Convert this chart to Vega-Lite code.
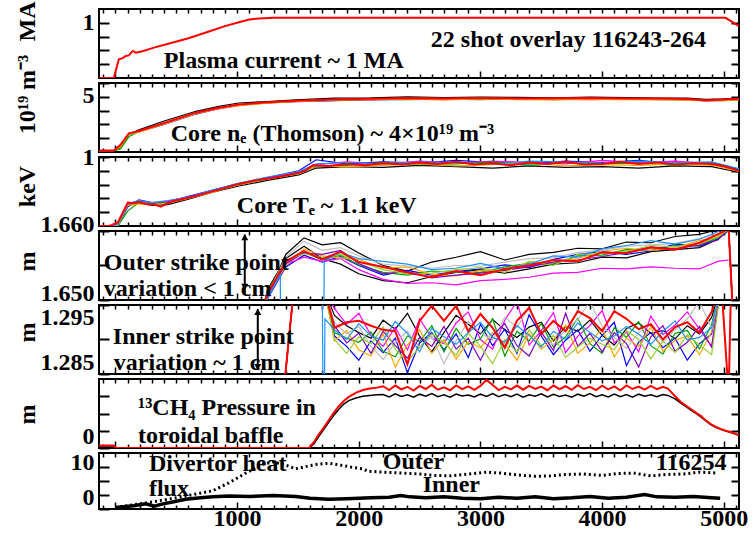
{
"$schema":"https://vega.github.io/schema/vega-lite/v6.json",
"background":"white",
"padding":{"left":14,"top":0,"right":12,"bottom":4},
"autosize":{"type":"pad"},
"spacing":5,
"bounds":"flush",
"config":{
 "view":{"stroke":"black","strokeWidth":2},
 "font":"Liberation Serif",
 "mark":{"invalid":"filter"},
 "line":{"invalid":"filter"},
 "axis":{"domain":false,"grid":false,"tickColor":"black","labelColor":"black","labelFont":"Liberation Serif","labelFontWeight":"bold","labelFontSize":24,"titleFont":"Liberation Serif","titleFontWeight":"bold","titleFontSize":24,"titleColor":"black","labelPadding":4},
 "axisLeft":{"labelPadding":15,"titleAlign":"center","titleBaseline":"middle"},
 "text":{"font":"Liberation Serif","fontWeight":"bold","fontSize":24,"color":"black","align":"left","baseline":"middle"}
},
"datasets":{
"ip":[{"t":-135,"r":0},{"t":-13,"r":0},{"t":28,"r":0.34},{"t":60,"r":0.36},{"t":85,"r":0.4},{"t":110,"r":0.41},{"t":143,"r":0.49},{"t":168,"r":0.46},{"t":230,"r":0.49},{"t":316,"r":0.55},{"t":450,"r":0.63},{"t":600,"r":0.72},{"t":750,"r":0.83},{"t":900,"r":0.94},{"t":1030,"r":1.02},{"t":1100,"r":1.06},{"t":1180,"r":1.08},{"t":1300,"r":1.09},{"t":2000,"r":1.09},{"t":3000,"r":1.09},{"t":4000,"r":1.09},{"t":5015,"r":1.09},{"t":5125,"r":0.94}],
"ne":[
{"t":-135,"r":0.1,"k":0.1,"b":0.1,"m":0.1,"g":0.1,"o":0.1},
{"t":-13,"r":0.1,"k":0.1,"b":0.1,"m":0.1,"g":0.1,"o":0.1},
{"t":40,"r":0.5,"k":0.3,"b":0.4,"m":0.45,"g":0.2,"o":0.35},
{"t":110,"r":1.35,"k":1.25,"b":1.3,"m":1.32,"g":1.1,"o":1.28},
{"t":193,"r":1.52,"k":1.6,"b":1.45,"m":1.5,"g":1.48,"o":1.44},
{"t":400,"r":2.1,"k":2.25,"b":2.0,"m":2.05,"g":2.08,"o":2.02},
{"t":662,"r":2.85,"k":2.95,"b":2.75,"m":2.8,"g":2.82,"o":2.78},
{"t":850,"r":3.2,"k":3.3,"b":3.15,"m":3.12,"g":3.18,"o":3.14},
{"t":1014,"r":3.45,"k":3.55,"b":3.4,"m":3.38,"g":3.42,"o":3.36},
{"t":1250,"r":3.6,"k":3.66,"b":3.55,"m":3.58,"g":3.56,"o":3.54},
{"t":1482,"r":3.72,"k":3.78,"b":3.65,"m":3.66,"g":3.68,"o":3.64},
{"t":1800,"r":3.8,"k":3.9,"b":3.72,"m":3.76,"g":3.74,"o":3.75},
{"t":2100,"r":3.86,"k":3.92,"b":3.8,"m":3.78,"g":3.82,"o":3.79},
{"t":2400,"r":3.9,"k":4.0,"b":3.82,"m":3.84,"g":3.8,"o":3.83},
{"t":2700,"r":3.88,"k":3.95,"b":3.85,"m":3.8,"g":3.83,"o":3.78},
{"t":3000,"r":3.92,"k":3.98,"b":3.82,"m":3.86,"g":3.8,"o":3.84},
{"t":3300,"r":3.88,"k":3.96,"b":3.84,"m":3.82,"g":3.86,"o":3.8},
{"t":3600,"r":3.9,"k":3.93,"b":3.8,"m":3.84,"g":3.82,"o":3.78},
{"t":3900,"r":3.92,"k":3.97,"b":3.85,"m":3.8,"g":3.83,"o":3.82},
{"t":4200,"r":3.88,"k":3.95,"b":3.83,"m":3.86,"g":3.81,"o":3.8},
{"t":4500,"r":3.88,"k":3.9,"b":3.8,"m":3.84,"g":3.82,"o":3.78},
{"t":4700,"r":3.84,"k":3.9,"b":3.8,"m":3.78,"g":3.8,"o":3.76},
{"t":4850,"r":3.75,"k":3.82,"b":3.7,"m":3.72,"g":3.74,"o":3.7},
{"t":5000,"r":3.8,"k":3.85,"b":3.74,"m":3.76,"g":3.72,"o":3.73},
{"t":5125,"r":3.86,"k":3.9,"b":3.78,"m":3.8,"g":3.8,"o":3.78}],
"te":[
{"t":-135,"r":0},{"t":-50,"r":0},{"t":20,"r":0.05},{"t":102,"r":0.34},{"t":150,"r":0.33},{"t":193,"r":0.35},{"t":250,"r":0.32},{"t":320,"r":0.31},{"t":373,"r":0.28},{"t":430,"r":0.33},{"t":472,"r":0.36},{"t":600,"r":0.41},{"t":750,"r":0.48},{"t":900,"r":0.55},{"t":1014,"r":0.61},{"t":1150,"r":0.66},{"t":1300,"r":0.7},{"t":1420,"r":0.74},{"t":1507,"r":0.77},{"t":1560,"r":0.8},{"t":1622,"r":0.88},{"t":1750,"r":0.87},{"t":1900,"r":0.9},{"t":2050,"r":0.88},{"t":2200,"r":0.91},{"t":2350,"r":0.89},{"t":2500,"r":0.92},{"t":2650,"r":0.9},{"t":2800,"r":0.93},{"t":2950,"r":0.89},{"t":3100,"r":0.91},{"t":3250,"r":0.88},{"t":3400,"r":0.92},{"t":3550,"r":0.9},{"t":3700,"r":0.93},{"t":3850,"r":0.89},{"t":4000,"r":0.9},{"t":4150,"r":0.93},{"t":4300,"r":0.9},{"t":4450,"r":0.92},{"t":4600,"r":0.89},{"t":4750,"r":0.91},{"t":4900,"r":0.9},{"t":5000,"r":0.87},{"t":5125,"r":0.8},
{"t":-135,"k":0,"b":0,"m":0,"g":0,"o":0,"c":0},
{"t":-50,"k":0,"b":0,"m":0,"g":0,"o":0,"c":0},
{"t":20,"k":0.02,"b":0,"m":0.03,"g":0,"o":0.01,"c":0.02},
{"t":102,"k":0.3,"b":0.28,"m":0.33,"g":0.22,"o":0.3,"c":0.32},
{"t":193,"k":0.33,"b":0.38,"m":0.36,"g":0.34,"o":0.32,"c":0.37},
{"t":300,"k":0.3,"b":0.34,"m":0.33,"g":0.32,"o":0.31,"c":0.34},
{"t":430,"k":0.31,"b":0.35,"m":0.36,"g":0.34,"o":0.33,"c":0.37},
{"t":600,"k":0.39,"b":0.43,"m":0.42,"g":0.41,"o":0.4,"c":0.42},
{"t":800,"k":0.49,"b":0.52,"m":0.51,"g":0.5,"o":0.49,"c":0.52},
{"t":1014,"k":0.58,"b":0.62,"m":0.61,"g":0.6,"o":0.6,"c":0.62},
{"t":1250,"k":0.66,"b":0.7,"m":0.69,"g":0.68,"o":0.68,"c":0.71},
{"t":1507,"k":0.74,"b":0.8,"m":0.78,"g":0.77,"o":0.76,"c":0.79},
{"t":1650,"k":0.84,"b":0.96,"m":0.89,"g":0.86,"o":0.87,"c":0.9},
{"t":1900,"k":0.86,"b":0.9,"m":0.93,"g":0.88,"o":0.86,"c":0.92},
{"t":2200,"k":0.85,"b":0.93,"m":0.9,"g":0.92,"o":0.88,"c":0.9},
{"t":2500,"k":0.88,"b":0.91,"m":0.94,"g":0.89,"o":0.9,"c":0.93},
{"t":2800,"k":0.86,"b":0.95,"m":0.91,"g":0.9,"o":0.87,"c":0.92},
{"t":3100,"k":0.84,"b":0.92,"m":0.94,"g":0.93,"o":0.89,"c":0.9},
{"t":3400,"k":0.87,"b":0.9,"m":0.92,"g":0.88,"o":0.91,"c":0.94},
{"t":3700,"k":0.85,"b":0.94,"m":0.9,"g":0.92,"o":0.87,"c":0.93},
{"t":4000,"k":0.86,"b":0.92,"m":0.95,"g":0.9,"o":0.89,"c":0.91},
{"t":4300,"k":0.84,"b":0.95,"m":0.92,"g":0.91,"o":0.88,"c":0.94},
{"t":4600,"k":0.87,"b":0.9,"m":0.94,"g":0.88,"o":0.9,"c":0.92},
{"t":4900,"k":0.86,"b":0.92,"m":0.9,"g":0.91,"o":0.88,"c":0.93},
{"t":5125,"k":0.78,"b":0.82,"m":0.8,"g":0.81,"o":0.79,"c":0.83}],
"osp":[
{"t":1200,"r":1.648,"k":1.648,"k2":1.648,"b":1.648,"m":1.648,"g":1.648,"o":1.648,"gr":1.648,"p":1.648,"y":1.648,"c":1.648},
{"t":1250,"r":1.6509,"k":1.6505,"k2":1.6515,"b":1.6502,"m":1.6506,"g":1.6512,"o":1.6504,"gr":1.6508,"p":1.6507,"y":1.651,"c":1.6503},
{"t":1355,"c":1.6538},{"t":1362,"c":1.63},{"t":1708,"c":1.63},{"t":1716,"c":1.6558},
{"t":1400,"r":1.6556,"k":1.6566,"k2":1.656,"b":1.6548,"m":1.6552,"g":1.6556,"o":1.655,"gr":1.6562,"p":1.6553,"y":1.6558},
{"t":1550,"r":1.6571,"k":1.659,"k2":1.6578,"b":1.6565,"m":1.6562,"g":1.6569,"o":1.6574,"gr":1.6585,"p":1.6568,"y":1.6567},
{"t":1700,"r":1.6559,"k":1.658,"k2":1.656,"b":1.6555,"m":1.6556,"g":1.6558,"o":1.6564,"gr":1.6572,"p":1.6566,"y":1.6562},
{"t":1850,"r":1.657,"k":1.6583,"k2":1.6552,"b":1.6563,"m":1.656,"g":1.6565,"o":1.6561,"gr":1.6576,"p":1.6572,"y":1.6566,"c":1.6569},
{"t":2000,"r":1.6555,"k":1.6568,"k2":1.6538,"b":1.655,"m":1.6544,"g":1.6551,"o":1.6559,"gr":1.6564,"p":1.6553,"y":1.6556,"c":1.656},
{"t":2200,"r":1.6548,"k":1.655,"k2":1.6528,"b":1.6536,"m":1.653,"g":1.654,"o":1.6546,"gr":1.6552,"p":1.6538,"y":1.6544,"c":1.6556},
{"t":2400,"r":1.654,"k":1.6542,"k2":1.6525,"b":1.6543,"m":1.6524,"g":1.6536,"o":1.6548,"gr":1.6549,"p":1.6541,"y":1.6538,"c":1.6552},
{"t":2600,"r":1.6533,"k":1.6555,"k2":1.6534,"b":1.6536,"m":1.6525,"g":1.6542,"o":1.6537,"gr":1.6546,"p":1.6532,"y":1.6539,"c":1.6544},
{"t":2800,"r":1.6542,"k":1.6562,"k2":1.654,"b":1.6541,"m":1.6522,"g":1.654,"o":1.6535,"gr":1.655,"p":1.6536,"y":1.6544,"c":1.6546},
{"t":3000,"r":1.6536,"k":1.657,"k2":1.6544,"b":1.6545,"m":1.6528,"g":1.654,"o":1.6543,"gr":1.6549,"p":1.6539,"y":1.6547,"c":1.6553},
{"t":3200,"r":1.6545,"k":1.6558,"k2":1.6539,"b":1.6551,"m":1.653,"g":1.6548,"o":1.6542,"gr":1.6555,"p":1.6543,"y":1.654,"c":1.6545},
{"t":3400,"r":1.655,"k":1.6566,"k2":1.6545,"b":1.6547,"m":1.6533,"g":1.6553,"o":1.6555,"gr":1.656,"p":1.6548,"y":1.6556,"c":1.6552},
{"t":3600,"r":1.6558,"k":1.6569,"k2":1.6552,"b":1.6559,"m":1.6539,"g":1.6552,"o":1.6554,"gr":1.6561,"p":1.6555,"y":1.655,"c":1.6564},
{"t":3800,"r":1.6556,"k":1.6575,"k2":1.6554,"b":1.6566,"m":1.654,"g":1.6564,"o":1.656,"gr":1.6569,"p":1.6558,"y":1.6566,"c":1.6562},
{"t":4000,"r":1.6569,"k":1.6574,"k2":1.6562,"b":1.657,"m":1.6546,"g":1.6565,"o":1.6571,"gr":1.6572,"p":1.6563,"y":1.6568,"c":1.6574},
{"t":4200,"r":1.6568,"k":1.6584,"k2":1.6561,"b":1.6566,"m":1.6545,"g":1.6573,"o":1.6575,"gr":1.6578,"p":1.6569,"y":1.657,"c":1.6579},
{"t":4400,"r":1.6576,"k":1.6583,"k2":1.657,"b":1.6571,"m":1.6548,"g":1.6572,"o":1.6572,"gr":1.658,"p":1.6577,"y":1.6579,"c":1.6586},
{"t":4600,"r":1.6573,"k":1.6592,"k2":1.6573,"b":1.6581,"m":1.6546,"g":1.6579,"o":1.6576,"gr":1.6582,"p":1.6574,"y":1.6577,"c":1.6581},
{"t":4800,"r":1.6583,"k":1.6595,"k2":1.6576,"b":1.6578,"m":1.6545,"g":1.658,"o":1.6586,"gr":1.6589,"p":1.658,"y":1.6581,"c":1.6588},
{"t":4950,"r":1.6595,"k":1.6602,"k2":1.6588,"b":1.6588,"m":1.6556,"g":1.659,"o":1.6591,"gr":1.6596,"p":1.6587,"y":1.6592,"c":1.6599},
{"t":5040,"r":1.6603,"k":1.6605,"k2":1.6601,"b":1.6602,"m":1.6558,"g":1.6601,"o":1.6603,"gr":1.6604,"p":1.6602,"y":1.6602,"c":1.6606},
{"t":5075,"r":1.648,"k":1.648,"k2":1.648,"b":1.648,"g":1.648,"o":1.648,"gr":1.648,"p":1.648,"y":1.648,"c":1.648}],
"isp":[
{"t":1380,"r":1.282,"k":1.282,"b":1.282,"m":1.282,"g":1.282,"o":1.282,"gr":1.282,"p":1.282,"y":1.282,"c":1.282},
{"t":1470,"r":1.298,"k":1.298,"b":1.298,"m":1.298,"g":1.298,"o":1.298,"gr":1.298,"p":1.298,"y":1.298,"c":1.298},
{"t":1700,"c":1.298},{"t":1712,"c":1.265},{"t":1722,"c":1.293},
{"t":1720,"r":1.297,"k":1.297,"b":1.297,"m":1.297,"g":1.297,"o":1.297,"gr":1.297,"p":1.297,"y":1.297},
{"t":1800,"r":1.2917,"k":1.2935,"b":1.2905,"m":1.2945,"g":1.291,"o":1.2898,"gr":1.2925,"p":1.292,"y":1.29,"c":1.2914},
{"t":1900,"r":1.2925,"k":1.292,"b":1.289,"m":1.2922,"g":1.2902,"o":1.2913,"gr":1.2908,"p":1.2895,"y":1.288,"c":1.29},
{"t":2000,"r":1.2927,"k":1.291,"b":1.287,"m":1.2938,"g":1.2896,"o":1.2885,"gr":1.2919,"p":1.2909,"y":1.2904,"c":1.2923},
{"t":2100,"r":1.292,"k":1.2902,"b":1.2898,"m":1.2906,"g":1.2911,"o":1.2876,"gr":1.289,"p":1.288,"y":1.2894,"c":1.2905},
{"t":2200,"r":1.2914,"k":1.2928,"b":1.2881,"m":1.289,"g":1.2883,"o":1.2908,"gr":1.2871,"p":1.2912,"y":1.2918,"c":1.2899},
{"t":2300,"r":1.2912,"k":1.2915,"b":1.2902,"m":1.2918,"g":1.2875,"o":1.286,"gr":1.2896,"p":1.2891,"y":1.2886,"c":1.2926},
{"t":2400,"r":1.2864,"k":1.2938,"b":1.2852,"m":1.2885,"g":1.2905,"o":1.2892,"gr":1.2912,"p":1.2873,"y":1.2868,"c":1.2909},
{"t":2500,"r":1.2927,"k":1.2905,"b":1.2895,"m":1.293,"g":1.2897,"o":1.2914,"gr":1.2888,"p":1.2903,"y":1.2889,"c":1.2882},
{"t":2600,"r":1.2949,"k":1.2882,"b":1.291,"m":1.2902,"g":1.292,"o":1.288,"gr":1.2905,"p":1.289,"y":1.2908,"c":1.2916},
{"t":2700,"r":1.2927,"k":1.291,"b":1.2885,"m":1.2894,"g":1.2882,"o":1.29,"gr":1.2865,"p":1.2919,"y":1.2896,"c":1.2904},
{"t":2800,"r":1.2949,"k":1.2935,"b":1.2908,"m":1.2924,"g":1.2916,"o":1.2872,"gr":1.2898,"p":1.2886,"y":1.2877,"c":1.2893},
{"t":2900,"r":1.2912,"k":1.2922,"b":1.2874,"m":1.294,"g":1.2893,"o":1.2897,"gr":1.2926,"p":1.2902,"y":1.2909,"c":1.291},
{"t":3000,"r":1.2937,"k":1.2908,"b":1.2922,"m":1.29,"g":1.2901,"o":1.2888,"gr":1.291,"p":1.287,"y":1.289,"c":1.2925},
{"t":3100,"r":1.2917,"k":1.2929,"b":1.2891,"m":1.2886,"g":1.293,"o":1.291,"gr":1.2899,"p":1.2906,"y":1.2865,"c":1.2903},
{"t":3200,"r":1.2888,"k":1.2914,"b":1.2915,"m":1.2928,"g":1.2876,"o":1.2894,"gr":1.2932,"p":1.2923,"y":1.29,"c":1.2896},
{"t":3300,"r":1.2927,"k":1.2903,"b":1.288,"m":1.2955,"g":1.2912,"o":1.287,"gr":1.2918,"p":1.2891,"y":1.2882,"c":1.292},
{"t":3400,"r":1.2946,"k":1.2918,"b":1.2936,"m":1.2892,"g":1.2898,"o":1.2909,"gr":1.2946,"p":1.2876,"y":1.2914,"c":1.2906},
{"t":3500,"r":1.2908,"k":1.2925,"b":1.2905,"m":1.2913,"g":1.2923,"o":1.2886,"gr":1.2908,"p":1.2911,"y":1.2891,"c":1.2889},
{"t":3600,"r":1.2927,"k":1.2898,"b":1.2878,"m":1.2939,"g":1.2889,"o":1.29,"gr":1.2892,"p":1.2884,"y":1.2906,"c":1.2912},
{"t":3700,"r":1.2912,"k":1.2919,"b":1.2899,"m":1.2881,"g":1.2904,"o":1.2921,"gr":1.2915,"p":1.2938,"y":1.2874,"c":1.29},
{"t":3800,"r":1.2941,"k":1.2912,"b":1.2914,"m":1.2905,"g":1.2931,"o":1.288,"gr":1.2929,"p":1.289,"y":1.2889,"c":1.2924},
{"t":3900,"r":1.2931,"k":1.2928,"b":1.2883,"m":1.292,"g":1.2894,"o":1.2895,"gr":1.2955,"p":1.2909,"y":1.2902,"c":1.291},
{"t":4000,"r":1.2912,"k":1.2906,"b":1.2906,"m":1.2942,"g":1.288,"o":1.2916,"gr":1.2919,"p":1.2882,"y":1.2893,"c":1.2898},
{"t":4100,"r":1.2941,"k":1.2892,"b":1.2925,"m":1.2895,"g":1.2917,"o":1.2875,"gr":1.2903,"p":1.291,"y":1.2885,"c":1.2905},
{"t":4200,"r":1.293,"k":1.2916,"b":1.2862,"m":1.2911,"g":1.2903,"o":1.2902,"gr":1.2887,"p":1.2894,"y":1.2913,"c":1.2919},
{"t":4300,"r":1.2915,"k":1.2924,"b":1.2896,"m":1.2882,"g":1.2926,"o":1.289,"gr":1.291,"p":1.286,"y":1.29,"c":1.2908},
{"t":4400,"r":1.2922,"k":1.2909,"b":1.291,"m":1.2934,"g":1.2891,"o":1.2918,"gr":1.2922,"p":1.2904,"y":1.2872,"c":1.2893},
{"t":4500,"r":1.29,"k":1.2913,"b":1.2888,"m":1.2907,"g":1.2879,"o":1.2883,"gr":1.2896,"p":1.292,"y":1.2898,"c":1.2912},
{"t":4600,"r":1.2918,"k":1.2901,"b":1.2902,"m":1.2921,"g":1.2909,"o":1.2899,"gr":1.2914,"p":1.2883,"y":1.2881,"c":1.2927},
{"t":4700,"r":1.2925,"k":1.292,"b":1.287,"m":1.294,"g":1.2913,"o":1.2905,"gr":1.293,"p":1.2896,"y":1.2907,"c":1.2899},
{"t":4800,"r":1.291,"k":1.2908,"b":1.2894,"m":1.2915,"g":1.2886,"o":1.2878,"gr":1.2955,"p":1.2919,"y":1.2892,"c":1.2903},
{"t":4900,"r":1.294,"k":1.2932,"b":1.2908,"m":1.289,"g":1.2922,"o":1.2911,"gr":1.2916,"p":1.2889,"y":1.2878,"c":1.2917},
{"t":4980,"r":1.298,"k":1.298,"b":1.298,"m":1.298,"g":1.298,"o":1.298,"gr":1.298,"p":1.298,"y":1.298,"c":1.298},
{"t":5040,"r":1.282,"k":1.298,"b":1.298,"m":1.298,"g":1.298,"o":1.298,"gr":1.298,"p":1.298,"y":1.298,"c":1.298},
{"t":5060,"r":1.298}],
"pr":[
{"t":-135,"r":0.15,"k":0.12},{"t":-15,"r":0.15,"k":0.12},{"t":5,"r":0,"k":0},{"t":1592,"r":0,"k":0},{"t":1632,"r":0.35,"k":0.25},{"t":1672,"r":0.8,"k":0.68},{"t":1713,"r":1.2,"k":1.08},{"t":1754,"r":1.62,"k":1.5},{"t":1795,"r":2.05,"k":1.9},{"t":1836,"r":2.43,"k":2.25},{"t":1877,"r":2.72,"k":2.55},{"t":1918,"r":2.96,"k":2.75},{"t":1975,"r":3.2,"k":2.9},{"t":2033,"r":3.36,"k":3.0},{"t":2090,"r":3.45,"k":3.05},{"t":2150,"r":3.5,"k":3.08},
{"t":2200,"r":3.58,"k":3.1},{"t":2250,"r":3.36,"k":2.96},{"t":2300,"r":3.62,"k":3.14},{"t":2350,"r":3.4,"k":2.99},{"t":2400,"r":3.55,"k":3.08},{"t":2450,"r":3.33,"k":2.94},{"t":2500,"r":3.6,"k":3.12},{"t":2550,"r":3.42,"k":3.0},{"t":2600,"r":3.66,"k":3.15},{"t":2650,"r":3.38,"k":2.97},
{"t":2700,"r":3.52,"k":3.09},{"t":2750,"r":3.35,"k":2.95},{"t":2800,"r":3.63,"k":3.13},{"t":2850,"r":3.41,"k":3.01},{"t":2900,"r":3.57,"k":3.07},{"t":2950,"r":3.37,"k":2.96},{"t":3000,"r":3.6,"k":3.12},{"t":3050,"r":3.95,"k":2.99},{"t":3100,"r":3.65,"k":3.16},{"t":3150,"r":3.36,"k":2.97},
{"t":3200,"r":3.54,"k":3.1},{"t":3250,"r":3.4,"k":2.98},{"t":3300,"r":3.62,"k":3.13},{"t":3350,"r":3.38,"k":2.95},{"t":3400,"r":3.6,"k":3.08},{"t":3450,"r":3.43,"k":3.0},{"t":3500,"r":3.56,"k":3.14},{"t":3550,"r":3.35,"k":2.96},{"t":3600,"r":3.62,"k":3.11},{"t":3650,"r":3.41,"k":2.99},
{"t":3700,"r":3.58,"k":3.07},{"t":3750,"r":3.37,"k":2.94},{"t":3800,"r":3.64,"k":3.12},{"t":3850,"r":3.42,"k":3.0},{"t":3900,"r":3.55,"k":3.15},{"t":3950,"r":3.36,"k":2.97},{"t":4000,"r":3.61,"k":3.09},{"t":4050,"r":3.4,"k":2.96},{"t":4100,"r":3.57,"k":3.13},{"t":4150,"r":3.34,"k":2.98},
{"t":4200,"r":3.63,"k":3.1},{"t":4250,"r":3.42,"k":2.95},{"t":4300,"r":3.56,"k":3.12},{"t":4350,"r":3.38,"k":3.0},{"t":4400,"r":3.6,"k":3.08},{"t":4450,"r":3.41,"k":2.97},{"t":4500,"r":3.55,"k":3.1},
{"t":4540,"r":3.45,"k":3.05},{"t":4600,"r":3.0,"k":2.85},{"t":4647,"r":2.67,"k":2.6},{"t":4690,"r":2.45,"k":2.4},{"t":4729,"r":2.26,"k":2.2},{"t":4770,"r":2.05,"k":2.0},{"t":4811,"r":1.86,"k":1.8},{"t":4852,"r":1.6,"k":1.57},{"t":4893,"r":1.39,"k":1.36},{"t":4934,"r":1.22,"k":1.2},{"t":4975,"r":1.1,"k":1.08},{"t":5016,"r":1.0,"k":0.98},{"t":5057,"r":0.93,"k":0.9},{"t":5090,"r":0.84,"k":0.82},{"t":5122,"r":0.75,"k":0.74}],
"hf":[
{"t":0,"out":0.3},{"t":250,"out":1.3},{"t":390,"out":1.9},{"t":578,"out":2.8},{"t":800,"out":3.9},{"t":932,"out":5.6},{"t":1071,"out":7.7},{"t":1211,"out":9.6},{"t":1293,"out":10.1},{"t":1400,"out":9.4},{"t":1482,"out":8.6},{"t":1600,"out":9.3},{"t":1663,"out":9.6},{"t":1753,"out":9.8},{"t":1850,"out":9.4},{"t":1934,"out":9.0},{"t":2033,"out":8.6},{"t":2074,"out":8.1},{"t":2200,"out":7.9},{"t":2345,"out":7.7},{"t":2500,"out":7.5},{"t":2620,"out":7.2},{"t":2756,"out":7.1},{"t":2900,"out":7.5},{"t":3050,"out":7.9},{"t":3167,"out":7.7},{"t":3300,"out":7.3},{"t":3450,"out":7.0},{"t":3578,"out":7.1},{"t":3700,"out":7.4},{"t":3849,"out":7.5},{"t":4000,"out":7.2},{"t":4130,"out":7.6},{"t":4259,"out":7.7},{"t":4399,"out":7.1},{"t":4530,"out":7.4},{"t":4670,"out":7.5},{"t":4800,"out":7.9},{"t":4950,"out":7.7},
{"t":0,"inn":0.3},{"t":150,"inn":0.7},{"t":250,"inn":1.1},{"t":320,"inn":0.6},{"t":390,"inn":1.1},{"t":470,"inn":1.5},{"t":578,"inn":2.1},{"t":700,"inn":2.4},{"t":800,"inn":2.6},{"t":932,"inn":2.8},{"t":1100,"inn":2.7},{"t":1300,"inn":2.9},{"t":1482,"inn":2.7},{"t":1600,"inn":2.3},{"t":1753,"inn":2.1},{"t":1900,"inn":2.2},{"t":2100,"inn":2.4},{"t":2250,"inn":2.5},{"t":2345,"inn":2.9},{"t":2420,"inn":2.6},{"t":2550,"inn":2.4},{"t":2700,"inn":2.6},{"t":2850,"inn":2.3},{"t":3000,"inn":2.2},{"t":3150,"inn":2.5},{"t":3300,"inn":2.3},{"t":3450,"inn":2.6},{"t":3600,"inn":2.2},{"t":3750,"inn":2.4},{"t":3900,"inn":2.7},{"t":4050,"inn":2.3},{"t":4200,"inn":2.5},{"t":4350,"inn":3.1},{"t":4450,"inn":2.6},{"t":4600,"inn":2.5},{"t":4750,"inn":2.7},{"t":4900,"inn":2.4},{"t":4970,"inn":2.3}]
},
"vconcat":[
{"width":640,"height":69,"data":{"name":"ip"},
 "layer":[
  {"mark":{"type":"line","clip":true,"invalid":"filter","color":"#ff0000","strokeWidth":2},
   "encoding":{
    "x":{"field":"t","type":"quantitative","scale":{"domain":[-135,5125],"nice":false,"zero":false},"axis":{"orient":"bottom","title":null,"tickCount":50,"labels":false,"tickSize":{"condition":{"test":"datum.value % 1000 === 0","value":-7},"value":-4},"tickWidth":1.5}},
    "y":{"field":"r","type":"quantitative","scale":{"domain":[0,1.25],"nice":false,"zero":false},"axis":{"orient":"left","values":[0.25,0.5,0.75,1],"labelExpr":"datum.value == 1 ? '1' : ''","tickSize":-10,"tickWidth":2,"title":"MA","titleX":-72,"titleY":12}}}},
  {"data":{"values":[{"t":398,"v":0.31,"label":"Plasma current ~ 1 MA"},{"t":2592,"v":0.69,"label":"22 shot overlay 116243-264"}]},
   "mark":{"type":"text"},
   "encoding":{
    "x":{"field":"t","type":"quantitative","axis":{"orient":"top","title":null,"tickCount":50,"labels":false,"tickSize":-4,"tickWidth":1.5}},
    "y":{"field":"v","type":"quantitative","axis":{"orient":"right","values":[0.25,0.5,0.75,1],"labels":false,"tickSize":-8,"tickWidth":2,"title":null}},
    "text":{"field":"label"}}}
 ],
 "resolve":{"axis":{"x":"independent","y":"independent"}}},
{"width":640,"height":69,"data":{"name":"ne"},
 "layer":[
  {"transform":[{"fold":["k","b","m","g","o"],"as":["s","v"]}],
   "mark":{"type":"line","clip":true,"invalid":"filter","strokeWidth":1.2},
   "encoding":{
    "x":{"field":"t","type":"quantitative","scale":{"domain":[-135,5125],"nice":false,"zero":false},"axis":{"orient":"bottom","title":null,"tickCount":50,"labels":false,"tickSize":{"condition":{"test":"datum.value % 1000 === 0","value":-7},"value":-4},"tickWidth":1.5}},
    "y":{"field":"v","type":"quantitative","scale":{"domain":[0,5],"nice":false,"zero":false},"axis":{"orient":"left","values":[1,2,3,4,5],"labelExpr":"datum.value == 5 ? '5' : ''","labelFlush":true,"tickSize":-10,"tickWidth":2,"title":"10¹⁹ m⁻³","titleX":-72,"titleY":11}},
    "color":{"field":"s","type":"nominal","scale":{"domain":["k","k2","b","m","g","o","gr","p","y","c"],"range":["#000000","#000000","#0000ff","#ff00ff","#00a000","#ffa500","#bebebe","#8000c0","#9acd32","#1e90ff"]},"legend":null}}},
  {"mark":{"type":"line","clip":true,"invalid":"filter","color":"#ff0000","strokeWidth":2},
   "encoding":{"x":{"field":"t","type":"quantitative","axis":null},"y":{"field":"r","type":"quantitative","axis":null}}},
  {"data":{"values":[{"t":455,"v":1.3,"label":"Core nₑ (Thomson) ~ 4×10¹⁹ m⁻³"}]},
   "mark":{"type":"text"},
   "encoding":{
    "x":{"field":"t","type":"quantitative","axis":{"orient":"top","title":null,"tickCount":50,"labels":false,"tickSize":-4,"tickWidth":1.5}},
    "y":{"field":"v","type":"quantitative","axis":{"orient":"right","values":[1,2,3,4,5],"labels":false,"tickSize":-8,"tickWidth":2,"title":null}},
    "text":{"field":"label"}}}
 ],
 "resolve":{"axis":{"x":"independent","y":"independent"}}},
{"width":640,"height":69,"data":{"name":"te"},
 "layer":[
  {"transform":[{"fold":["k","b","m","g","o","c"],"as":["s","v"]}],
   "mark":{"type":"line","clip":true,"invalid":"filter","strokeWidth":1.2},
   "encoding":{
    "x":{"field":"t","type":"quantitative","scale":{"domain":[-135,5125],"nice":false,"zero":false},"axis":{"orient":"bottom","title":null,"tickCount":50,"labels":false,"tickSize":{"condition":{"test":"datum.value % 1000 === 0","value":-7},"value":-4},"tickWidth":1.5}},
    "y":{"field":"v","type":"quantitative","scale":{"domain":[0,1],"nice":false,"zero":false},"axis":{"orient":"left","values":[0.2,0.4,0.6,0.8,1],"labelExpr":"datum.value == 1 ? '1' : ''","tickSize":-10,"tickWidth":2,"title":"keV","titleX":-72,"titleY":29}},
    "color":{"field":"s","type":"nominal","scale":{"domain":["k","k2","b","m","g","o","gr","p","y","c"],"range":["#000000","#000000","#0000ff","#ff00ff","#00a000","#ffa500","#bebebe","#8000c0","#9acd32","#1e90ff"]},"legend":null}}},
  {"mark":{"type":"line","clip":true,"invalid":"filter","color":"#ff0000","strokeWidth":2},
   "encoding":{"x":{"field":"t","type":"quantitative","axis":null},"y":{"field":"r","type":"quantitative","axis":null}}},
  {"data":{"values":[{"t":998,"v":0.29,"label":"Core Tₑ ~ 1.1 keV"}]},
   "mark":{"type":"text"},
   "encoding":{
    "x":{"field":"t","type":"quantitative","axis":{"orient":"top","title":null,"tickCount":50,"labels":false,"tickSize":-4,"tickWidth":1.5}},
    "y":{"field":"v","type":"quantitative","axis":{"orient":"right","values":[0.2,0.4,0.6,0.8,1],"labels":false,"tickSize":-8,"tickWidth":2,"title":null}},
    "text":{"field":"label"}}}
 ],
 "resolve":{"axis":{"x":"independent","y":"independent"}}},
{"width":640,"height":69,"data":{"name":"osp"},
 "layer":[
  {"transform":[{"fold":["k","k2","b","m","g","o","gr","p","y","c"],"as":["s","v"]}],
   "mark":{"type":"line","clip":true,"invalid":"filter","strokeWidth":1.2},
   "encoding":{
    "x":{"field":"t","type":"quantitative","scale":{"domain":[-135,5125],"nice":false,"zero":false},"axis":{"orient":"bottom","title":null,"tickCount":50,"labels":false,"tickSize":{"condition":{"test":"datum.value % 1000 === 0","value":-7},"value":-4},"tickWidth":1.5}},
    "y":{"field":"v","type":"quantitative","scale":{"domain":[1.65,1.66],"nice":false,"zero":false},"axis":{"orient":"left","values":[1.65,1.655,1.66],"labelExpr":"datum.value == 1.655 ? '' : format(datum.value, '.3f')","labelOffset":-7,"tickSize":-10,"tickWidth":2,"title":"m","titleX":-72,"titleY":30}},
    "color":{"field":"s","type":"nominal","scale":{"domain":["k","k2","b","m","g","o","gr","p","y","c"],"range":["#000000","#000000","#0000ff","#ff00ff","#00a000","#ffa500","#bebebe","#8000c0","#9acd32","#1e90ff"]},"legend":null}}},
  {"mark":{"type":"line","clip":true,"invalid":"filter","color":"#ff0000","strokeWidth":2},
   "encoding":{"x":{"field":"t","type":"quantitative","axis":null},"y":{"field":"r","type":"quantitative","axis":null}}},
  {"data":{"values":[{"t":1063,"lo":1.6509,"hi":1.6595}]},
   "mark":{"type":"rule","color":"black","strokeWidth":2},
   "encoding":{"x":{"field":"t","type":"quantitative","axis":null},"y":{"field":"lo","type":"quantitative","axis":null},"y2":{"field":"hi"}}},
  {"data":{"values":[{"t":1063,"v":1.6591}]},
   "mark":{"type":"point","shape":"triangle-up","filled":true,"color":"black","opacity":1,"size":50},
   "encoding":{"x":{"field":"t","type":"quantitative","axis":null},"y":{"field":"v","type":"quantitative","axis":null}}},
  {"data":{"values":[{"t":1063,"v":1.6519}]},
   "mark":{"type":"point","shape":"triangle-down","filled":true,"color":"black","opacity":1,"size":50},
   "encoding":{"x":{"field":"t","type":"quantitative","axis":null},"y":{"field":"v","type":"quantitative","axis":null}}},
  {"data":{"values":[{"t":-95,"v":1.6553,"label":"Outer strike point"},{"t":-95,"v":1.65165,"label":"variation < 1 cm"}]},
   "mark":{"type":"text"},
   "encoding":{
    "x":{"field":"t","type":"quantitative","axis":{"orient":"top","title":null,"tickCount":50,"labels":false,"tickSize":-4,"tickWidth":1.5}},
    "y":{"field":"v","type":"quantitative","axis":{"orient":"right","values":[1.65,1.655,1.66],"labels":false,"tickSize":-8,"tickWidth":2,"title":null}},
    "text":{"field":"label"}}}
 ],
 "resolve":{"axis":{"x":"independent","y":"independent"}}},
{"width":640,"height":69,"data":{"name":"isp"},
 "layer":[
  {"transform":[{"fold":["k","b","m","g","o","gr","p","y","c"],"as":["s","v"]}],
   "mark":{"type":"line","clip":true,"invalid":"filter","strokeWidth":1.2},
   "encoding":{
    "x":{"field":"t","type":"quantitative","scale":{"domain":[-135,5125],"nice":false,"zero":false},"axis":{"orient":"bottom","title":null,"tickCount":50,"labels":false,"tickSize":{"condition":{"test":"datum.value % 1000 === 0","value":-7},"value":-4},"tickWidth":1.5}},
    "y":{"field":"v","type":"quantitative","scale":{"domain":[1.285,1.295],"nice":false,"zero":false},"axis":{"orient":"left","values":[1.285,1.29,1.295],"labelExpr":"datum.value == 1.29 ? '' : format(datum.value, '.3f')","labelFlush":true,"tickSize":-10,"tickWidth":2,"title":"m","titleX":-72,"titleY":27}},
    "color":{"field":"s","type":"nominal","scale":{"domain":["k","k2","b","m","g","o","gr","p","y","c"],"range":["#000000","#000000","#0000ff","#ff00ff","#00a000","#ffa500","#bebebe","#8000c0","#9acd32","#1e90ff"]},"legend":null}}},
  {"mark":{"type":"line","clip":true,"invalid":"filter","color":"#ff0000","strokeWidth":2},
   "encoding":{"x":{"field":"t","type":"quantitative","axis":null},"y":{"field":"r","type":"quantitative","axis":null}}},
  {"data":{"values":[{"t":1170,"lo":1.2856,"hi":1.2944}]},
   "mark":{"type":"rule","color":"black","strokeWidth":2},
   "encoding":{"x":{"field":"t","type":"quantitative","axis":null},"y":{"field":"lo","type":"quantitative","axis":null},"y2":{"field":"hi"}}},
  {"data":{"values":[{"t":1170,"v":1.294}]},
   "mark":{"type":"point","shape":"triangle-up","filled":true,"color":"black","opacity":1,"size":50},
   "encoding":{"x":{"field":"t","type":"quantitative","axis":null},"y":{"field":"v","type":"quantitative","axis":null}}},
  {"data":{"values":[{"t":1170,"v":1.286}]},
   "mark":{"type":"point","shape":"triangle-down","filled":true,"color":"black","opacity":1,"size":50},
   "encoding":{"x":{"field":"t","type":"quantitative","axis":null},"y":{"field":"v","type":"quantitative","axis":null}}},
  {"data":{"values":[{"t":-21,"v":1.2903,"label":"Inner strike point"},{"t":-13,"v":1.28665,"label":"variation ~ 1 cm"}]},
   "mark":{"type":"text"},
   "encoding":{
    "x":{"field":"t","type":"quantitative","axis":{"orient":"top","title":null,"tickCount":50,"labels":false,"tickSize":-4,"tickWidth":1.5}},
    "y":{"field":"v","type":"quantitative","axis":{"orient":"right","values":[1.285,1.29,1.295],"labels":false,"tickSize":-8,"tickWidth":2,"title":null}},
    "text":{"field":"label"}}}
 ],
 "resolve":{"axis":{"x":"independent","y":"independent"}}},
{"width":640,"height":69,"data":{"name":"pr"},
 "layer":[
  {"mark":{"type":"line","clip":true,"invalid":"filter","color":"#000000","strokeWidth":1.5},
   "encoding":{
    "x":{"field":"t","type":"quantitative","scale":{"domain":[-135,5125],"nice":false,"zero":false},"axis":{"orient":"bottom","title":null,"tickCount":50,"labels":false,"tickSize":{"condition":{"test":"datum.value % 1000 === 0","value":-7},"value":-4},"tickWidth":1.5}},
    "y":{"field":"k","type":"quantitative","scale":{"domain":[0,4],"nice":false,"zero":false},"axis":{"orient":"left","values":[0,1,2,3],"labelExpr":"datum.value == 0 ? '0' : ''","labelFlush":true,"tickSize":-10,"tickWidth":2,"title":"m","titleX":-72,"titleY":35}}}},
  {"mark":{"type":"line","clip":true,"invalid":"filter","color":"#ff0000","strokeWidth":2},
   "encoding":{"x":{"field":"t","type":"quantitative","axis":null},"y":{"field":"r","type":"quantitative","axis":null}}},
  {"data":{"values":[{"t":185,"v":2.32,"label":"¹³CH₄ Pressure in"},{"t":185,"v":0.7,"label":"toroidal baffle"}]},
   "mark":{"type":"text"},
   "encoding":{
    "x":{"field":"t","type":"quantitative","axis":{"orient":"top","title":null,"tickCount":50,"labels":false,"tickSize":-4,"tickWidth":1.5}},
    "y":{"field":"v","type":"quantitative","axis":{"orient":"right","values":[1,2,3],"labels":false,"tickSize":-8,"tickWidth":2,"title":null}},
    "text":{"field":"label"}}}
 ],
 "resolve":{"axis":{"x":"independent","y":"independent"}}},
{"width":640,"height":56,"data":{"name":"hf"},
 "layer":[
  {"mark":{"type":"line","clip":true,"invalid":"filter","color":"#000000","strokeWidth":3,"strokeDash":[2,3]},
   "encoding":{
    "x":{"field":"t","type":"quantitative","scale":{"domain":[-135,5125],"nice":false,"zero":false},"axis":{"orient":"bottom","title":null,"tickCount":50,"labels":true,"labelExpr":"(datum.value % 1000 === 0 && datum.value > 0) ? format(datum.value, 'd') : ''","tickSize":{"condition":{"test":"datum.value % 1000 === 0","value":-7},"value":-4},"tickWidth":1.5,"labelPadding":4}},
    "y":{"field":"out","type":"quantitative","scale":{"domain":[0,12],"nice":false,"zero":false},"axis":{"orient":"left","values":[0,3,6,9,10],"labelExpr":"(datum.value == 0 || datum.value == 10) ? datum.label : ''","tickOpacity":{"condition":{"test":"datum.value == 10","value":0},"value":1},"labelFlush":true,"tickSize":-10,"tickWidth":2,"title":null}}}},
  {"mark":{"type":"line","clip":true,"invalid":"filter","color":"#000000","strokeWidth":3.5},
   "encoding":{"x":{"field":"t","type":"quantitative","axis":null},"y":{"field":"inn","type":"quantitative","axis":null}}},
  {"data":{"values":[{"t":275,"v":9.6,"label":"Divertor heat"},{"t":275,"v":4.3,"label":"flux"},{"t":2197,"v":10.1,"label":"Outer"},{"t":2525,"v":5.1,"label":"Inner"},{"t":4441,"v":9.8,"label":"116254"}]},
   "mark":{"type":"text"},
   "encoding":{
    "x":{"field":"t","type":"quantitative","axis":{"orient":"top","title":null,"tickCount":50,"labels":false,"tickSize":-4,"tickWidth":1.5}},
    "y":{"field":"v","type":"quantitative","axis":{"orient":"right","values":[3,6,9],"labels":false,"tickSize":-8,"tickWidth":2,"title":null}},
    "text":{"field":"label"}}}
 ],
 "resolve":{"axis":{"x":"independent","y":"independent"}}}
]
}
